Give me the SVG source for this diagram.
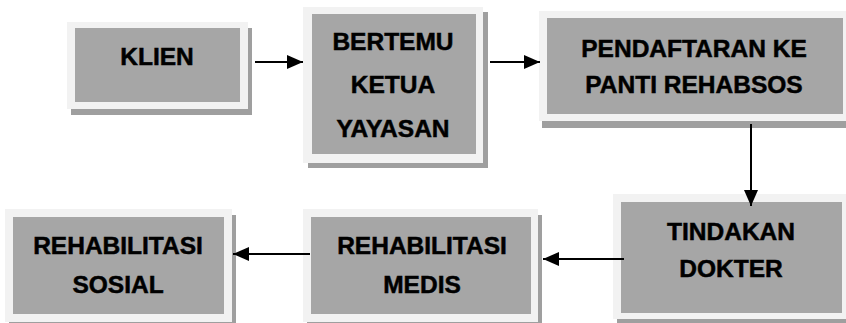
<svg xmlns="http://www.w3.org/2000/svg" width="846" height="323" viewBox="0 0 846 323">
<defs>
<style>
.sh{fill:#9f9f9f}
.out{fill:#f2f2f2}
.in{fill:#a6a6a6}
.t{font-family:"Liberation Sans",Arial,sans-serif;font-weight:bold;font-size:24.5px;fill:#000;stroke:#000;stroke-width:0.5;text-anchor:middle}
.c{stroke:#000;stroke-width:2;fill:none}
</style>
<marker id="ah" viewBox="0 0 16 14" refX="16" refY="7" markerWidth="16" markerHeight="14" markerUnits="userSpaceOnUse" orient="auto">
<path d="M0,0 L16,7 L0,14 Z" fill="#000"/>
</marker>
</defs>
<rect width="846" height="323" fill="#fff"/>
<g id="klien">
<rect class="sh" x="71" y="28" width="181" height="87"/>
<rect class="out" x="67" y="22" width="181" height="87"/>
<rect class="in" x="75" y="28" width="165" height="74"/>
<text class="t" x="157" y="65">KLIEN</text>
</g>
<g id="bertemu">
<rect class="sh" x="308" y="12" width="180" height="156"/>
<rect class="out" x="303" y="7" width="180" height="156"/>
<rect class="in" x="312" y="14" width="164" height="140"/>
<text class="t" x="393" y="50">BERTEMU</text>
<text class="t" x="393" y="93">KETUA</text>
<text class="t" x="393" y="137">YAYASAN</text>
</g>
<g id="pendaftaran">
<rect class="sh" x="542" y="17" width="310" height="111"/>
<rect class="out" x="539" y="11" width="310" height="110"/>
<rect class="in" x="547" y="18" width="296" height="96"/>
<text class="t" x="694" y="57">PENDAFTARAN KE</text>
<text class="t" x="694" y="93">PANTI REHABSOS</text>
</g>
<g id="tindakan">
<rect class="sh" x="617" y="200" width="235" height="125"/>
<rect class="out" x="613" y="194" width="235" height="125"/>
<rect class="in" x="621" y="202" width="221" height="111"/>
<text class="t" x="731" y="240">TINDAKAN</text>
<text class="t" x="731" y="277">DOKTER</text>
</g>
<g id="medis">
<rect class="sh" x="307" y="215" width="235" height="113"/>
<rect class="out" x="303" y="209" width="235" height="113"/>
<rect class="in" x="311" y="217" width="220" height="97"/>
<text class="t" x="422" y="254">REHABILITASI</text>
<text class="t" x="422" y="293">MEDIS</text>
</g>
<g id="sosial">
<rect class="sh" x="9" y="215" width="227" height="113"/>
<rect class="out" x="5" y="209" width="227" height="113"/>
<rect class="in" x="13" y="217" width="211" height="97"/>
<text class="t" x="118" y="254">REHABILITASI</text>
<text class="t" x="118" y="293">SOSIAL</text>
</g>
<g id="connectors">
<line class="c" x1="255" y1="62" x2="303" y2="62" marker-end="url(#ah)"/>
<line class="c" x1="490" y1="62" x2="540" y2="62" marker-end="url(#ah)"/>
<line class="c" x1="751" y1="124" x2="751" y2="206" marker-end="url(#ah)"/>
<line class="c" x1="624" y1="259" x2="543" y2="259" marker-end="url(#ah)"/>
<line class="c" x1="310" y1="254" x2="233" y2="254" marker-end="url(#ah)"/>
</g>
</svg>
